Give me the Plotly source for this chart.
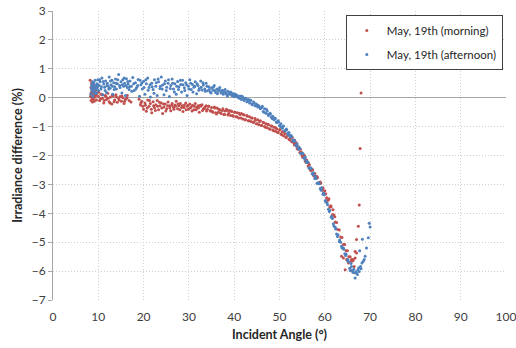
import plotly.graph_objects as go

# ---- Data: incident angle (deg) vs irradiance difference (%) ----
morning_angle = [
    8.2, 8.3, 8.4, 8.4, 8.5, 8.5, 8.6, 8.6, 8.7, 8.7,
    8.8, 8.8, 8.9, 8.9, 9.0, 9.0, 9.1, 9.1, 9.2, 9.3,
    9.3, 9.4, 9.5, 9.6, 9.7, 10.0, 10.3, 10.6, 10.9, 11.2,
    11.5, 11.8, 12.1, 12.4, 12.7, 13.0, 13.3, 13.6, 13.9, 14.2,
    14.5, 14.8, 15.1, 15.4, 15.7, 16.0, 16.4, 16.8, 17.2, 19.0,
    19.3, 19.6, 20.0, 20.3, 20.6, 20.9, 21.2, 21.5, 21.8, 22.1,
    22.4, 22.7, 23.0, 23.3, 23.6, 23.9, 24.2, 24.5, 24.8, 25.1,
    25.4, 25.7, 26.0, 26.3, 26.6, 26.9, 27.2, 27.5, 27.8, 28.1,
    28.4, 28.7, 29.0, 29.3, 29.6, 29.9, 30.2, 30.5, 30.8, 31.1,
    31.4, 31.7, 32.0, 32.3, 32.6, 32.9, 33.2, 33.5, 33.8, 34.1,
    34.4, 34.7, 35.0, 35.3, 35.6, 35.9, 36.2, 36.5, 36.8, 37.1,
    37.4, 37.7, 38.0, 38.3, 38.6, 38.9, 39.2, 39.5, 39.8, 40.1,
    40.4, 40.7, 41.0, 41.3, 41.6, 41.9, 42.2, 42.5, 42.8, 43.1,
    43.4, 43.7, 44.0, 44.3, 44.6, 44.9, 45.2, 45.5, 45.8, 46.1,
    46.4, 46.7, 47.0, 47.3, 47.6, 47.9, 48.2, 48.5, 48.8, 49.1,
    49.4, 49.7, 50.0, 50.3, 50.6, 50.9, 51.2, 51.5, 51.8, 52.1,
    52.4, 52.7, 53.0, 53.3, 53.6, 53.9, 54.2, 54.5, 54.8, 55.1,
    55.4, 55.7, 56.0, 56.3, 56.6, 56.9, 57.2, 57.5, 57.8, 58.1,
    58.4, 58.7, 59.0, 59.3, 59.6, 59.9, 60.2, 60.5, 60.8, 61.1,
    61.4, 61.7, 62.0, 62.3, 62.6, 62.9, 63.2, 63.5, 63.8, 64.1,
    64.4, 64.7, 65.0, 65.3, 65.6, 65.9, 66.2, 66.5, 66.7, 67.0,
    67.4, 67.6, 67.8, 68.0, 63.7, 64.1, 64.5, 64.8, 65.9, 66.7,
    67.0, 66.3, 65.2, 66.0, 8.4, 8.6, 8.8, 9.0, 9.2, 9.5,
    10.1, 10.5, 10.9, 11.3, 11.7, 12.2, 12.6, 13.1, 13.5, 14.0,
    14.6, 15.2, 15.8, 16.3, 19.4, 19.8, 20.4, 20.8, 21.3, 21.7,
    22.2, 22.6, 23.1, 23.5, 24.0, 24.4, 24.9, 25.3, 25.8, 26.2,
    26.7, 27.1, 27.6, 28.0, 28.5, 28.9, 29.4, 29.8, 30.3, 30.7,
    31.2, 31.6, 32.1, 32.5, 33.0, 33.4, 33.9, 34.3, 34.8, 35.2,
    35.7, 36.1, 36.6, 37.0, 37.5, 37.9, 38.4, 38.8, 39.3, 39.7,
    40.2, 40.6, 41.1, 41.5, 42.0, 42.4, 42.9, 43.3, 43.8, 44.2,
    44.7, 45.1, 45.6, 46.0, 46.5, 46.9, 47.4, 47.8, 48.3, 48.7,
    49.2, 49.6, 50.1, 50.5, 51.0, 51.4, 51.9, 52.3, 52.8, 53.2,
    53.7, 54.1, 54.6, 55.0, 55.5, 55.9, 56.4, 56.8, 57.3, 57.7,
    58.2, 58.6, 59.1, 59.5, 60.0, 60.4, 60.9, 61.3, 61.8, 62.2,
]
morning_diff = [
    0.60, 0.05, 0.35, -0.10, 0.20, 0.50, 0.00, 0.28, -0.15, 0.42,
    0.12, 0.32, -0.05, 0.22, 0.45, 0.08, 0.30, -0.12, 0.18, 0.38,
    0.02, 0.25, 0.10, -0.08, 0.15, 0.05, -0.10, 0.12, -0.02, -0.18,
    0.08, -0.06, 0.15, -0.14, 0.02, -0.22, 0.06, -0.08, 0.10, -0.16,
    -0.02, 0.04, -0.12, 0.00, -0.20, -0.05, 0.08, -0.10, -0.15, -0.05,
    -0.25, -0.12, -0.40, -0.18, -0.47, -0.08, -0.30, -0.20, -0.52, -0.14,
    -0.35, -0.24, -0.10, -0.42, -0.28, -0.18, -0.55, -0.32, -0.22, -0.38,
    -0.15, -0.28, -0.45, -0.20, -0.33, -0.25, -0.12, -0.38, -0.28, -0.20,
    -0.34, -0.48, -0.25, -0.18, -0.30, -0.40, -0.22, -0.32, -0.26, -0.42,
    -0.20, -0.34, -0.28, -0.50, -0.30, -0.24, -0.38, -0.33, -0.28, -0.40,
    -0.30, -0.46, -0.34, -0.50, -0.32, -0.52, -0.36, -0.50, -0.42, -0.55,
    -0.44, -0.58, -0.46, -0.40, -0.60, -0.44, -0.62, -0.48, -0.64, -0.50,
    -0.66, -0.52, -0.70, -0.58, -0.55, -0.74, -0.60, -0.76, -0.62, -0.80,
    -0.66, -0.82, -0.70, -0.86, -0.72, -0.90, -0.76, -0.94, -0.80, -0.96,
    -0.86, -1.00, -0.90, -1.04, -0.94, -1.08, -0.98, -1.12, -1.02, -1.16,
    -1.08, -1.20, -1.12, -1.26, -1.18, -1.32, -1.24, -1.38, -1.30, -1.44,
    -1.38, -1.52, -1.46, -1.64, -1.58, -1.76, -1.70, -1.90, -1.88, -2.06,
    -2.02, -2.20, -2.16, -2.36, -2.32, -2.52, -2.48, -2.68, -2.62, -2.80,
    -2.76, -2.96, -2.92, -3.14, -3.12, -3.34, -3.32, -3.56, -3.54, -3.78,
    -3.78, -4.04, -4.06, -4.30, -4.32, -4.56, -4.58, -4.82, -4.84, -5.08,
    -5.08, -5.30, -5.30, -5.50, -5.50, -5.66, -5.64, -5.84, -5.32, -4.91,
    -4.45, -3.71, -1.76, 0.16, -5.49, -5.55, -5.95, -5.60, -5.60, -5.55,
    -5.37, -5.60, -5.72, -5.98, 0.15, 0.40, -0.02, 0.25, 0.05, 0.30,
    0.20, -0.04, 0.10, -0.10, 0.04, -0.02, -0.18, 0.10, -0.14, 0.02,
    -0.08, 0.06, -0.12, -0.02, -0.18, -0.30, -0.26, -0.36, -0.10, -0.40,
    -0.28, -0.44, -0.30, -0.16, -0.36, -0.22, -0.46, -0.28, -0.36, -0.26,
    -0.40, -0.30, -0.22, -0.42, -0.28, -0.34, -0.42, -0.26, -0.36, -0.46,
    -0.30, -0.42, -0.36, -0.26, -0.44, -0.38, -0.46, -0.30, -0.44, -0.48,
    -0.36, -0.56, -0.40, -0.52, -0.38, -0.58, -0.44, -0.54, -0.46, -0.62,
    -0.50, -0.66, -0.54, -0.70, -0.58, -0.76, -0.64, -0.80, -0.70, -0.84,
    -0.78, -0.90, -0.82, -0.96, -0.86, -1.02, -0.92, -1.08, -0.98, -1.14,
    -1.04, -1.20, -1.10, -1.28, -1.18, -1.36, -1.26, -1.46, -1.38, -1.58,
    -1.56, -1.78, -1.78, -2.00, -2.00, -2.24, -2.26, -2.48, -2.50, -2.72,
    -2.72, -2.94, -2.96, -3.20, -3.22, -3.46, -3.50, -3.74, -3.88, -4.12,
]

afternoon_angle = [
    8.4, 8.5, 8.6, 8.7, 8.8, 8.9, 9.0, 9.1, 9.2, 9.3,
    9.4, 9.5, 9.6, 9.7, 9.8, 9.9, 10.0, 10.2, 10.4, 10.6,
    10.8, 11.0, 11.2, 11.4, 11.6, 11.8, 12.0, 12.2, 12.4, 12.6,
    12.8, 13.0, 13.2, 13.4, 13.6, 13.8, 14.0, 14.2, 14.5, 14.7,
    15.0, 15.2, 15.4, 15.6, 15.8, 16.0, 16.2, 16.4, 16.6, 16.8,
    17.0, 17.3, 17.6, 17.9, 18.2, 18.5, 18.8, 19.1, 19.4, 19.7,
    20.0, 20.3, 20.6, 20.9, 21.2, 21.5, 21.8, 22.1, 22.4, 22.7,
    23.0, 23.3, 23.6, 23.9, 24.2, 24.5, 24.8, 25.1, 25.4, 25.7,
    26.0, 26.3, 26.6, 26.9, 27.2, 27.5, 27.8, 28.1, 28.4, 28.7,
    29.0, 29.3, 29.6, 29.9, 30.2, 30.5, 30.8, 31.1, 31.4, 31.7,
    32.0, 32.3, 32.6, 32.9, 33.2, 33.5, 33.8, 34.1, 34.4, 34.7,
    35.0, 35.3, 35.6, 35.9, 36.2, 36.5, 36.8, 37.1, 37.4, 37.7,
    38.0, 38.3, 38.6, 38.9, 39.2, 39.5, 39.8, 40.1, 40.4, 40.7,
    41.0, 41.3, 41.6, 41.9, 42.2, 42.5, 42.8, 43.1, 43.4, 43.7,
    44.0, 44.3, 44.6, 44.9, 45.2, 45.5, 45.8, 46.1, 46.4, 46.7,
    47.0, 47.3, 47.6, 47.9, 48.2, 48.5, 48.8, 49.1, 49.4, 49.7,
    50.0, 50.3, 50.6, 50.9, 51.2, 51.5, 51.8, 52.1, 52.4, 52.7,
    53.0, 53.3, 53.6, 53.9, 54.2, 54.5, 54.8, 55.1, 55.4, 55.7,
    56.0, 56.3, 56.6, 56.9, 57.2, 57.5, 57.8, 58.1, 58.4, 58.7,
    59.0, 59.3, 59.6, 59.9, 60.2, 60.5, 60.8, 61.1, 61.4, 61.7,
    62.0, 62.3, 62.6, 62.9, 63.2, 63.5, 63.8, 64.1, 64.4, 64.7,
    65.0, 65.3, 65.6, 65.9, 66.2, 66.5, 66.7, 67.0, 67.3, 67.6,
    67.9, 68.2, 68.5, 68.9, 69.2, 69.6, 69.8, 70.0, 68.3, 67.7,
    8.5, 8.7, 8.9, 9.1, 9.3, 9.6, 9.9, 10.3, 10.7, 11.1,
    11.5, 11.9, 12.3, 12.7, 13.1, 13.5, 13.9, 14.3, 14.8, 15.3,
    15.7, 16.1, 16.5, 16.9, 17.4, 17.8, 18.3, 18.7, 19.2, 19.6,
    20.1, 20.5, 21.0, 21.4, 21.9, 22.3, 22.8, 23.2, 23.7, 24.1,
    24.6, 25.0, 25.5, 25.9, 26.4, 26.8, 27.3, 27.7, 28.2, 28.6,
    29.1, 29.5, 30.0, 30.4, 30.9, 31.3, 31.8, 32.2, 32.7, 33.1,
    33.6, 34.0, 34.5, 34.9, 35.4, 35.8, 36.3, 36.7, 37.2, 37.6,
    38.1, 38.5, 39.0, 39.4, 39.9, 40.3, 40.8, 41.2, 41.7, 42.1,
    42.6, 43.0, 43.5, 43.9, 44.4, 44.8, 45.3, 45.7, 46.2, 46.6,
    47.1, 47.5, 48.0, 48.4, 48.9, 49.3, 49.8, 50.2, 50.7, 51.1,
    51.6, 52.0, 52.5, 52.9, 53.4, 53.8, 54.3, 54.7, 55.2, 55.6,
    56.1, 56.5, 57.0, 57.4, 57.9, 58.3, 58.8, 59.2, 59.7, 60.1,
    60.6, 61.0, 61.5, 61.9, 62.4, 62.8, 63.3, 63.7, 64.2, 64.6,
    65.1, 65.5, 65.8, 66.1, 66.4, 66.9, 67.2, 67.5, 68.0, 68.7,
]
afternoon_diff = [
    0.12, 0.30, 0.45, 0.22, 0.05, 0.38, 0.52, 0.18, 0.33, 0.60,
    0.27, 0.41, 0.15, 0.48, 0.35, 0.62, 0.25, 0.42, 0.55, 0.30,
    0.68, 0.10, 0.47, 0.36, 0.58, 0.18, 0.50, 0.40, 0.72, 0.33,
    0.45, 0.60, 0.12, 0.52, 0.38, 0.65, 0.30, 0.48, 0.80, 0.42,
    0.55, 0.16, 0.62, 0.40, 0.50, 0.08, 0.66, 0.35, 0.47, 0.28,
    0.58, 0.40, 0.70, 0.25, 0.52, 0.36, 0.63, 0.05, 0.45, 0.30,
    0.57, 0.12, 0.48, 0.68, 0.35, 0.02, 0.50, 0.28, 0.62, 0.40,
    0.08, 0.55, 0.32, 0.72, 0.44, 0.10, 0.58, 0.36, 0.50, 0.04,
    0.42, 0.65, 0.30, 0.48, 0.12, 0.56, 0.38, 0.60, 0.20, 0.45,
    0.34, 0.52, 0.08, 0.40, 0.62, 0.28, 0.46, 0.36, 0.55, 0.14,
    0.42, 0.32, 0.58, 0.27, 0.44, 0.30, 0.50, 0.24, 0.38, 0.20,
    0.34, 0.26, 0.42, 0.18, 0.30, 0.22, 0.35, 0.16, 0.26, 0.20,
    0.28, 0.12, 0.22, 0.15, 0.20, 0.08, 0.14, 0.10, 0.04, 0.08,
    0.00, 0.06, -0.06, 0.02, -0.10, -0.02, -0.14, -0.06, -0.18, -0.10,
    -0.24, -0.15, -0.28, -0.22, -0.32, -0.30, -0.38, -0.34, -0.48, -0.38,
    -0.54, -0.46, -0.62, -0.54, -0.68, -0.64, -0.76, -0.72, -0.86, -0.80,
    -0.96, -0.90, -1.06, -0.98, -1.14, -1.08, -1.24, -1.20, -1.36, -1.34,
    -1.50, -1.46, -1.64, -1.60, -1.78, -1.76, -1.94, -1.92, -2.08, -2.06,
    -2.24, -2.24, -2.44, -2.42, -2.62, -2.60, -2.80, -2.80, -2.96, -2.94,
    -3.14, -3.12, -3.34, -3.36, -3.60, -3.64, -3.86, -3.90, -4.14, -4.18,
    -4.44, -4.48, -4.72, -4.74, -4.98, -5.00, -5.20, -5.20, -5.40, -5.42,
    -5.64, -5.68, -5.98, -5.84, -6.04, -6.06, -6.24, -6.07, -5.95, -6.01,
    -5.84, -5.72, -5.66, -5.49, -5.20, -4.85, -4.34, -4.47, -4.90, -5.30,
    0.40, 0.55, 0.28, 0.42, 0.15, 0.35, 0.44, 0.62, 0.38, 0.56,
    0.25, 0.42, 0.30, 0.58, 0.40, 0.28, 0.50, 0.62, 0.35, 0.45,
    0.68, 0.42, 0.56, 0.38, 0.22, 0.48, 0.30, 0.42, 0.60, 0.52,
    0.35, 0.62, 0.26, 0.45, 0.38, 0.15, 0.52, 0.65, 0.40, 0.30,
    0.48, 0.25, 0.62, 0.32, 0.50, 0.20, 0.40, 0.28, 0.46, 0.60,
    0.25, 0.45, 0.30, 0.50, 0.20, 0.40, 0.48, 0.26, 0.36, 0.52,
    0.22, 0.40, 0.28, 0.16, 0.36, 0.25, 0.14, 0.28, 0.22, 0.12,
    0.18, 0.06, 0.12, 0.16, 0.04, 0.12, 0.02, -0.02, 0.05, -0.04,
    -0.04, -0.12, -0.08, -0.22, -0.18, -0.28, -0.26, -0.36, -0.30, -0.50,
    -0.40, -0.58, -0.56, -0.72, -0.70, -0.84, -0.84, -1.00, -1.00, -1.14,
    -1.12, -1.30, -1.30, -1.48, -1.50, -1.68, -1.72, -1.92, -1.94, -2.14,
    -2.20, -2.42, -2.46, -2.66, -2.72, -2.96, -2.98, -3.20, -3.30, -3.56,
    -3.70, -3.94, -4.10, -4.36, -4.54, -4.80, -4.92, -5.14, -5.24, -5.46,
    -5.60, -5.90, -5.74, -5.98, -5.94, -6.02, -6.12, -5.88, -5.92, -5.60,
]

series_names = ["May, 19th (morning)", "May, 19th (afternoon)"]
series_colors = ["#C0504D", "#4F81BD"]

FONT = "Lato, 'Open Sans', sans-serif"

fig = go.Figure()
for name, color, xs, ys, grp in [
    (series_names[0], series_colors[0], morning_angle, morning_diff, "m"),
    (series_names[1], series_colors[1], afternoon_angle, afternoon_diff, "a"),
]:
    fig.add_trace(go.Scatter(
        x=xs, y=ys, mode="markers", name=name, legendgroup=grp,
        marker=dict(size=3, color=color, line=dict(width=0)),
    ))

grid = "#cfcfcf"
fig.update_layout(
    width=516, height=348,
    margin=dict(l=53, r=10, t=11, b=48),
    paper_bgcolor="white", plot_bgcolor="white",
    font=dict(family=FONT, size=11, color="#404040"),
    showlegend=True,
    legend=dict(
        x=0.993, y=0.986, xanchor="right", yanchor="top",
        bgcolor="white", bordercolor="#404040", borderwidth=1,
        font=dict(family=FONT, size=11.5, color="#262626"),
        tracegroupgap=5, itemsizing="trace",
    ),
    xaxis=dict(
        range=[0, 100], dtick=10, tick0=0, automargin=False,
        ticklabeloverflow="allow",
        showgrid=True, gridcolor=grid, griddash="1px,2px", gridwidth=1,
        zeroline=False, showline=False,
        ticks="outside", ticklen=6, tickcolor="rgba(0,0,0,0)",
        tickfont=dict(family=FONT, size=12, color="#404040"),
        title=dict(text="<b>Incident Angle (°)</b>", standoff=6,
                   font=dict(family=FONT, size=12.5, color="#262626")),
    ),
    yaxis=dict(
        range=[-7, 3], dtick=1, tick0=0, automargin=False,
        showgrid=True, gridcolor=grid, griddash="1px,2px", gridwidth=1,
        zeroline=True, zerolinecolor="#a6a6a6", zerolinewidth=1,
        showline=True, linecolor="#a6a6a6", linewidth=1,
        ticks="outside", ticklen=4, tickcolor="#a6a6a6",
        tickfont=dict(family=FONT, size=12, color="#404040"),
        title=dict(text="<b>Irradiance difference (%)</b>", standoff=6,
                   font=dict(family=FONT, size=12.5, color="#262626")),
    ),
)

fig.write_html("out.html")
